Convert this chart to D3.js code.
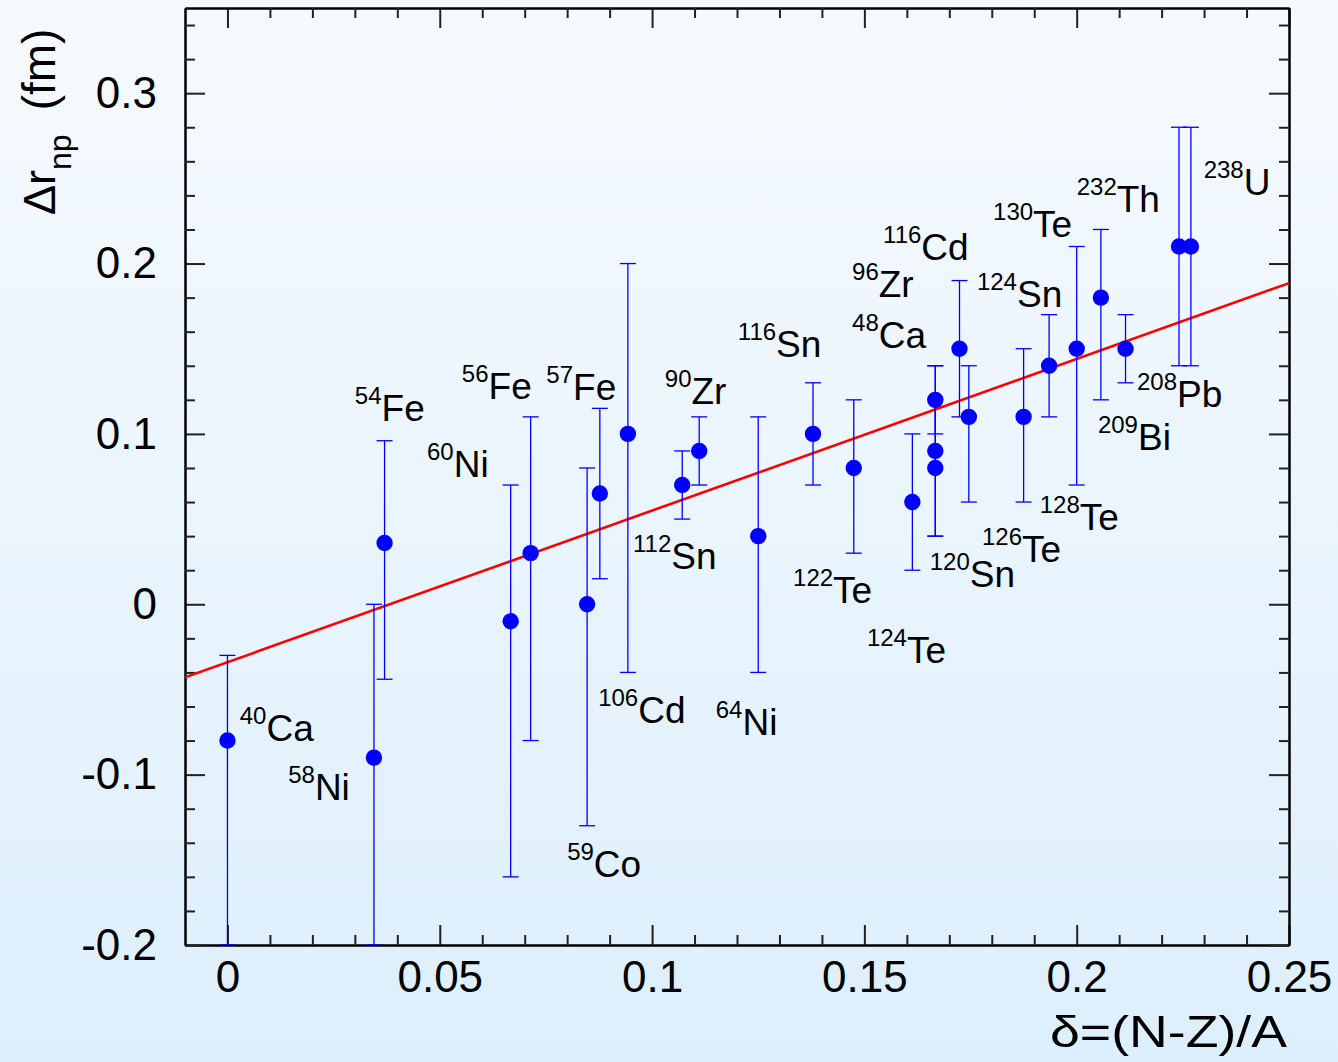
<!DOCTYPE html>
<html><head><meta charset="utf-8">
<script src="https://cdn.jsdelivr.net/npm/d3@7"></script>
<style>
html,body{margin:0;padding:0;background:#fff;}
svg{display:block;}
text{font-family:"Liberation Sans",Arial,Helvetica,sans-serif;}
</style>
</head><body>
<svg id="chart" width="1338" height="1062"></svg>
<script>
// ---- data ----
const nuclei  = ["40Ca","58Ni","54Fe","60Ni","56Fe","59Co","57Fe","106Cd","112Sn","90Zr","64Ni","116Sn","122Te","124Te","48Ca","96Zr","120Sn","116Cd","126Te","128Te","124Sn","130Te","209Bi","208Pb","232Th","238U"];
const delta   = [0.0, 0.0345, 0.037, 0.0667, 0.0714, 0.0847, 0.0877, 0.0943, 0.1071, 0.1111, 0.125, 0.1379, 0.1475, 0.1613, 0.1667, 0.1667, 0.1667, 0.1724, 0.1746, 0.1875, 0.1935, 0.2, 0.2057, 0.2115, 0.2241, 0.2269];
const drnp    = [-0.08, -0.09, 0.036, -0.01, 0.03, 0.00, 0.065, 0.10, 0.07, 0.09, 0.04, 0.10, 0.08, 0.06, 0.12, 0.09, 0.08, 0.15, 0.11, 0.11, 0.14, 0.15, 0.18, 0.15, 0.21, 0.21];
const errLow  = [-0.20, -0.20, -0.044, -0.16, -0.08, -0.13, 0.015, -0.04, 0.05, 0.07, -0.04, 0.07, 0.03, 0.02, 0.10, 0.04, 0.04, 0.11, 0.06, 0.06, 0.11, 0.07, 0.12, 0.13, 0.14, 0.14];
const errHigh = [-0.03, 0.00, 0.096, 0.07, 0.11, 0.08, 0.115, 0.20, 0.09, 0.11, 0.11, 0.13, 0.12, 0.10, 0.14, 0.14, 0.12, 0.19, 0.14, 0.15, 0.17, 0.21, 0.22, 0.17, 0.28, 0.28];

// linear fit  Δr_np = fitIntercept + fitSlope * δ
const fitIntercept = -0.034;
const fitSlope = 0.89;

// annotation labels: mass number, element, anchor (δ, Δr) of the label baseline start
const labelMass  = ["40","58","54","60","56","57","90","112","116","106","64","59","122","124","120","126","128","209","208","124","130","232","238","116","96","48"];
const labelElem  = ["Ca","Ni","Fe","Ni","Fe","Fe","Zr","Sn","Sn","Cd","Ni","Co","Te","Te","Sn","Te","Te","Bi","Pb","Sn","Te","Th","U","Cd","Zr","Ca"];
const labelDelta = [0.0029,0.0143,0.0300,0.0470,0.0552,0.0751,0.1030,0.0955,0.1202,0.0873,0.1150,0.0800,0.1332,0.1506,0.1654,0.1777,0.1913,0.2050,0.2142,0.1765,0.1803,0.2000,0.2299,0.1544,0.1471,0.1471];
const labelDr    = [-0.0802,-0.1149,0.1076,0.0747,0.1205,0.1199,0.1176,0.0207,0.1452,-0.0697,-0.0767,-0.1600,0.0008,-0.0344,0.0102,0.0248,0.0436,0.0906,0.1158,0.1745,0.2156,0.2303,0.2403,0.2020,0.1803,0.1504];

// axes
const xDomain = [-0.01, 0.25];
const yDomain = [-0.2, 0.35];
const xMajorTicks = [0, 0.05, 0.1, 0.15, 0.2, 0.25];
const xTickLabels = ["0", "0.05", "0.1", "0.15", "0.2", "0.25"];
const xMinorTicks = [0.01,0.02,0.03,0.04,0.06,0.07,0.08,0.09,0.11,0.12,0.13,0.14,0.16,0.17,0.18,0.19,0.21,0.22,0.23,0.24];
const yMajorTicks = [-0.2, -0.1, 0, 0.1, 0.2, 0.3];
const yTickLabels = ["-0.2", "-0.1", "0", "0.1", "0.2", "0.3"];
const yMinorTicks = [-0.18,-0.16,-0.14,-0.12,-0.08,-0.06,-0.04,-0.02,0.02,0.04,0.06,0.08,0.12,0.14,0.16,0.18,0.22,0.24,0.26,0.28,0.32,0.34];

// ---- drawing ----
const W = 1338, H = 1062;
const L = 185, R = 1289, T = 8, B = 945;
const svg = d3.select("#chart");

const defs = svg.append("defs");
const grad = defs.append("linearGradient").attr("id","bg").attr("x1",0).attr("y1",0).attr("x2",0).attr("y2",1);
grad.append("stop").attr("offset","0%").attr("stop-color","#f6fafe");
grad.append("stop").attr("offset","100%").attr("stop-color","#ddeffc");
defs.append("clipPath").attr("id","plotclip").append("rect")
  .attr("x",L).attr("y",T).attr("width",R-L).attr("height",B-T);

svg.append("rect").attr("width",W).attr("height",H).attr("fill","url(#bg)");

const x = d3.scaleLinear().domain(xDomain).range([L, R]);
const y = d3.scaleLinear().domain(yDomain).range([B, T]);

const fs = 44;
function styleAxis(g){
  g.select(".domain").attr("stroke","#000").attr("stroke-width",2);
  g.selectAll(".tick line").attr("stroke","#222").attr("stroke-width",2);
  g.selectAll(".tick text").attr("fill","#000").attr("font-size",fs)
   .attr("font-family",'"Liberation Sans",Arial,Helvetica,sans-serif');
}

// bottom axis
svg.append("g").attr("transform",`translate(0,${B})`)
  .call(d3.axisBottom(x).tickValues(xMajorTicks).tickSize(-20).tickSizeOuter(0).tickPadding(16)
        .tickFormat((d,i)=>xTickLabels[i]))
  .call(styleAxis);
svg.append("g").attr("transform",`translate(0,${B})`)
  .call(d3.axisBottom(x).tickValues(xMinorTicks).tickSize(-10).tickSizeOuter(0).tickFormat(""))
  .call(styleAxis);
// top axis
svg.append("g").attr("transform",`translate(0,${T})`)
  .call(d3.axisTop(x).tickValues(xMajorTicks).tickSize(-20).tickSizeOuter(0).tickFormat(""))
  .call(styleAxis);
svg.append("g").attr("transform",`translate(0,${T})`)
  .call(d3.axisTop(x).tickValues(xMinorTicks).tickSize(-10).tickSizeOuter(0).tickFormat(""))
  .call(styleAxis);
// left axis
svg.append("g").attr("transform",`translate(${L},0)`)
  .call(d3.axisLeft(y).tickValues(yMajorTicks).tickSize(-20).tickSizeOuter(0).tickPadding(28)
        .tickFormat((d,i)=>yTickLabels[i]))
  .call(styleAxis);
svg.append("g").attr("transform",`translate(${L},0)`)
  .call(d3.axisLeft(y).tickValues(yMinorTicks).tickSize(-10).tickSizeOuter(0).tickFormat(""))
  .call(styleAxis);
// right axis
svg.append("g").attr("transform",`translate(${R},0)`)
  .call(d3.axisRight(y).tickValues(yMajorTicks).tickSize(-20).tickSizeOuter(0).tickFormat(""))
  .call(styleAxis);
svg.append("g").attr("transform",`translate(${R},0)`)
  .call(d3.axisRight(y).tickValues(yMinorTicks).tickSize(-10).tickSizeOuter(0).tickFormat(""))
  .call(styleAxis);

// plot content
const plot = svg.append("g").attr("clip-path","url(#plotclip)");

// fit line
const fitLine = d3.line().x(d=>x(d)).y(d=>y(fitIntercept + fitSlope*d));
plot.append("path").datum(xDomain).attr("d",fitLine)
  .attr("fill","none").attr("stroke","#ff0000").attr("stroke-width",2.6);

const pts = nuclei.map((n,i)=>({n, d:delta[i], v:drnp[i], lo:errLow[i], hi:errHigh[i]}));
const eb = plot.append("g").attr("stroke","#0000ff").attr("stroke-width",1.3).attr("fill","none");
const cap = 8;
pts.forEach(p=>{
  eb.append("line").attr("x1",x(p.d)).attr("x2",x(p.d)).attr("y1",y(p.lo)).attr("y2",y(p.hi));
  eb.append("line").attr("x1",x(p.d)-cap).attr("x2",x(p.d)+cap).attr("y1",y(p.lo)).attr("y2",y(p.lo));
  eb.append("line").attr("x1",x(p.d)-cap).attr("x2",x(p.d)+cap).attr("y1",y(p.hi)).attr("y2",y(p.hi));
});
plot.append("g").selectAll("circle").data(pts).join("circle")
  .attr("cx",p=>x(p.d)).attr("cy",p=>y(p.v)).attr("r",8.2).attr("fill","#0000ff");

// nucleus labels
const lab = svg.append("g");
labelMass.forEach((m,i)=>{
  const t = lab.append("text").attr("x",x(labelDelta[i])).attr("y",y(labelDr[i])).attr("fill","#000");
  t.append("tspan").attr("font-size",24).attr("dy",-17).text(m);
  t.append("tspan").attr("font-size",37).attr("dy",17).text(labelElem[i]);
});

// axis titles
svg.append("text").attr("x",1050).attr("y",1047).attr("text-anchor","start")
  .attr("font-size",45).attr("fill","#000")
  .attr("textLength",237).attr("lengthAdjust","spacingAndGlyphs").text("δ=(N-Z)/A");
const yt = svg.append("text").attr("transform","translate(55,215) rotate(-90)")
  .attr("text-anchor","start").attr("font-size",fs).attr("fill","#000");
yt.append("tspan").attr("font-size",45).text("Δr");
yt.append("tspan").attr("font-size",32).attr("dy",16).text("np");
yt.append("tspan").attr("font-size",46).attr("dy",-16).attr("dx",24).text("(fm)");
</script>
</body></html>
